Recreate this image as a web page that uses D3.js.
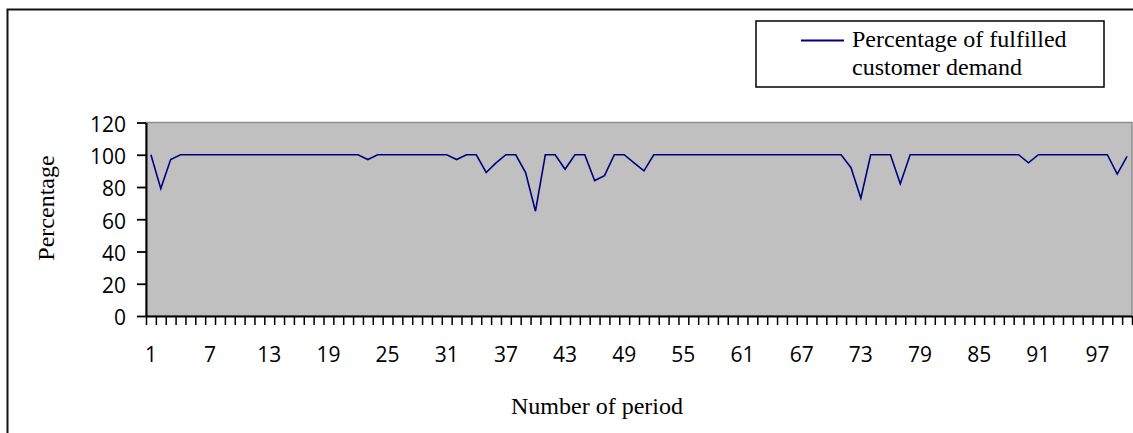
<!DOCTYPE html>
<html>
<head>
<meta charset="utf-8">
<script src="https://cdn.jsdelivr.net/npm/d3@7/dist/d3.min.js"></script>
<style>
  body { margin: 0; background: #fff; }
  svg { display: block; }
</style>
</head>
<body>
<div id="content"></div>
<script>
// data
var periods = d3.range(1, 101);
var fulfilled = [
  100, 79, 97, 100, 100, 100, 100, 100, 100, 100,
  100, 100, 100, 100, 100, 100, 100, 100, 100, 100,
  100, 100, 97, 100, 100, 100, 100, 100, 100, 100,
  100, 97, 100, 100, 89, 95, 100, 100, 89, 65,
  100, 100, 91, 100, 100, 84, 87, 100, 100, 95,
  90, 100, 100, 100, 100, 100, 100, 100, 100, 100,
  100, 100, 100, 100, 100, 100, 100, 100, 100, 100,
  100, 92, 73, 100, 100, 100, 82, 100, 100, 100,
  100, 100, 100, 100, 100, 100, 100, 100, 100, 95,
  100, 100, 100, 100, 100, 100, 100, 100, 88, 99
];
var yTicks = [0, 20, 40, 60, 80, 100, 120];
var xLabels = [1, 7, 13, 19, 25, 31, 37, 43, 49, 55, 61, 67, 73, 79, 85, 91, 97];
var seriesName = ["Percentage of fulfilled", "customer demand"];

var W = 1133, H = 433;
var plotLeft = 146, plotRight = 1132, plotTop = 122.5, plotBottom = 316;
var serif = "'Liberation Serif', 'Times New Roman', serif";
var sans = "'Open Sans', sans-serif";

var svg = d3.select("#content").append("svg").attr("width", W).attr("height", H);

// outer chart frame (runs off the picture on the right and bottom)
svg.append("rect").attr("x", 7.5).attr("y", 9.5).attr("width", 1200).attr("height", 600)
  .attr("fill", "none").attr("stroke", "#111").attr("stroke-width", 2);

// scales
var x = d3.scaleBand().domain(periods).range([plotLeft, plotRight]).padding(0);
var xEdge = d3.scaleLinear().domain([0, periods.length]).range([plotLeft, plotRight]);
var y = d3.scaleLinear().domain([0, 120]).range([plotBottom, plotTop]);

// plot area
svg.append("rect").attr("x", plotLeft).attr("y", plotTop).attr("width", plotRight - plotLeft).attr("height", plotBottom - plotTop)
  .attr("fill", "#c0c0c0").attr("stroke", "#8c8c8c").attr("stroke-width", 1.5);

// y axis
var yAxis = svg.append("g").attr("transform", "translate(" + plotLeft + ",0)")
  .call(d3.axisLeft(y).tickValues(yTicks).tickSize(9).tickPadding(11).tickSizeOuter(0));
yAxis.select(".domain").attr("stroke", "#000").attr("stroke-width", 2);
yAxis.selectAll(".tick line").attr("stroke", "#000").attr("stroke-width", 1.8);
yAxis.selectAll(".tick text").attr("font-family", sans).attr("font-size", 21).attr("fill", "#000").attr("dy", "0.42em");

// x axis: tick marks between categories
var xAxis = svg.append("g").attr("transform", "translate(0," + plotBottom + ")")
  .call(d3.axisBottom(xEdge).tickValues(d3.range(0, periods.length + 1)).tickSize(9).tickFormat("").tickSizeOuter(0));
xAxis.select(".domain").attr("stroke", "#000").attr("stroke-width", 2);
xAxis.selectAll(".tick line").attr("stroke", "#000").attr("stroke-width", 1.5);

svg.append("g").selectAll("text").data(xLabels).enter().append("text")
  .attr("x", function(d) { return x(d) + x.bandwidth() / 2; })
  .attr("y", 362)
  .attr("text-anchor", "middle")
  .attr("font-family", sans).attr("font-size", 21).attr("fill", "#000")
  .text(function(d) { return d; });

// line
var line = d3.line()
  .x(function(d, i) { return x(periods[i]) + x.bandwidth() / 2; })
  .y(function(d) { return y(d); });

svg.append("path").datum(fulfilled)
  .attr("d", line)
  .attr("fill", "none")
  .attr("stroke", "#000080")
  .attr("stroke-width", 1.6)
  .attr("stroke-linejoin", "miter");

// axis titles
svg.append("text").attr("x", 597).attr("y", 414).attr("text-anchor", "middle")
  .attr("font-family", serif).attr("font-size", 24).attr("fill", "#000")
  .text("Number of period");

svg.append("text").attr("transform", "translate(54,208) rotate(-90)").attr("text-anchor", "middle")
  .attr("font-family", serif).attr("font-size", 24).attr("fill", "#000")
  .text("Percentage");

// legend
var lg = svg.append("g");
lg.append("rect").attr("x", 756).attr("y", 21).attr("width", 348).attr("height", 66)
  .attr("fill", "#fff").attr("stroke", "#000").attr("stroke-width", 1.5);
lg.append("line").attr("x1", 801).attr("x2", 844).attr("y1", 40.5).attr("y2", 40.5)
  .attr("stroke", "#000080").attr("stroke-width", 2);
lg.selectAll("text.lbl").data(seriesName).enter().append("text")
  .attr("class", "lbl")
  .attr("x", 852).attr("y", function(d, i) { return 47 + i * 28; })
  .attr("font-family", serif).attr("font-size", 24).attr("fill", "#000")
  .text(function(d) { return d; });
</script>
</body>
</html>
